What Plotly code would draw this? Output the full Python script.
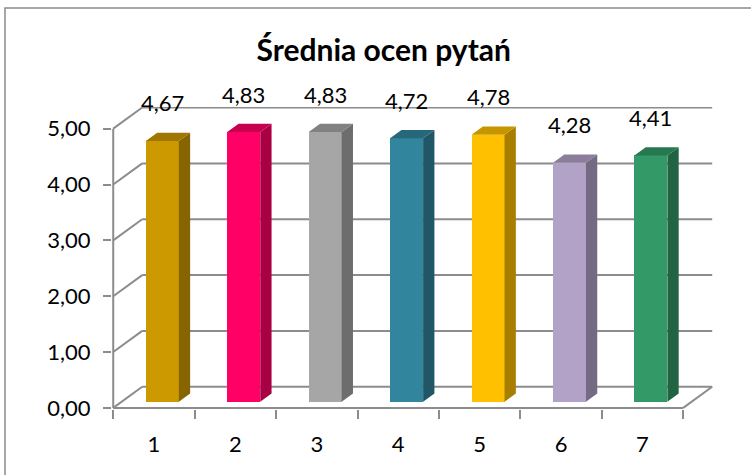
import plotly.graph_objects as go

# ---------------- data ----------------
categories = ["1", "2", "3", "4", "5", "6", "7"]
values = [4.67, 4.83, 4.83, 4.72, 4.78, 4.28, 4.41]
y_ticks = [0, 1, 2, 3, 4, 5]
bar_colors = ["#CC9900", "#FF0066", "#A6A6A6", "#31859C", "#FFC000", "#B2A2C7", "#339966"]
chart_title = "Średnia ocen pytań"

# ---------------- 3D style constants (data units) ----------------
DX = 0.356   # depth offset along x (category units)
DY = 0.378   # depth offset along y (value units)
F0 = 0.29    # bar front plane (fraction of depth)
F1 = 0.68    # bar back plane (fraction of depth)
W = 0.405    # bar width (category units)
GRID = "#8C8C8C"
FONT = "Lato, 'Open Sans', sans-serif"


def shade(hex_color, k):
    h = hex_color.lstrip("#")
    r, g, b = (int(h[i:i + 2], 16) for i in (0, 2, 4))
    return "rgb({},{},{})".format(int(r * k), int(g * k), int(b * k))


n = len(categories)
xpos = [i + 1 for i in range(n)]
x_lo, x_hi = 0.5, n + 0.5
y_top = max(y_ticks)

fig = go.Figure()

# front faces (bars)
fig.add_trace(go.Bar(
    x=xpos, y=values, base=[F0 * DY] * n,
    width=W, offset=F0 * DX - W / 2,
    marker=dict(color=bar_colors, line=dict(width=0)),
    hoverinfo="skip", showlegend=False,
))

ddx = (F1 - F0) * DX
ddy = (F1 - F0) * DY
for xc, v, col in zip(xpos, values, bar_colors):
    xl = xc + F0 * DX - W / 2
    xr = xc + F0 * DX + W / 2
    b = F0 * DY
    t = b + v
    # side face
    fig.add_trace(go.Scatter(
        x=[xr, xr + ddx, xr + ddx, xr, xr],
        y=[b, b + ddy, t + ddy, t, b],
        fill="toself", fillcolor=shade(col, 0.66),
        mode="lines", line=dict(width=0, color=shade(col, 0.66)),
        hoverinfo="skip", showlegend=False,
    ))
    # top face
    fig.add_trace(go.Scatter(
        x=[xl, xr, xr + ddx, xl + ddx, xl],
        y=[t, t, t + ddy, t + ddy, t],
        fill="toself", fillcolor=shade(col, 0.78),
        mode="lines", line=dict(width=0, color=shade(col, 0.78)),
        hoverinfo="skip", showlegend=False,
    ))

shapes = []
gl = dict(color=GRID, width=2)
for v in y_ticks:
    shapes.append(dict(type="line", xref="x", yref="y", layer="below",
                       x0=x_lo + DX, y0=v + DY, x1=x_hi + DX, y1=v + DY, line=gl))
    shapes.append(dict(type="line", xref="x", yref="y", layer="below",
                       x0=x_lo, y0=v, x1=x_lo + DX, y1=v + DY, line=gl))
shapes.append(dict(type="line", xref="x", yref="y", layer="below",
                   x0=x_lo, y0=0, x1=x_lo, y1=y_top, line=gl))
shapes.append(dict(type="line", xref="x", yref="y", layer="below",
                   x0=x_lo, y0=0, x1=x_hi, y1=0, line=gl))
shapes.append(dict(type="line", xref="x", yref="y", layer="below",
                   x0=x_hi, y0=0, x1=x_hi + DX, y1=DY, line=gl))

# chart frame (outer border)
W_PX, H_PX = 751, 475
ML, MR, MT, MB = 112, 38, 107, 66
pw = W_PX - ML - MR
ph = H_PX - MT - MB
shapes.append(dict(type="rect", xref="paper", yref="paper", layer="below",
                   x0=(5 - ML) / pw, x1=(W_PX + 20 - ML) / pw,
                   y0=((H_PX - MB) - (H_PX + 20)) / ph, y1=((H_PX - MB) - 8) / ph,
                   line=dict(color="#8A8A8A", width=1.5), fillcolor="rgba(0,0,0,0)"))

annotations = []
for xc, v in zip(xpos, values):
    annotations.append(dict(
        x=xc + F0 * DX, y=F0 * DY + v, xref="x", yref="y",
        text="{:.2f}".format(v).replace(".", ","),
        showarrow=False, yanchor="middle", xanchor="center", yshift=38,
        font=dict(family=FONT, size=22, color="#000000"),
    ))

fig.update_layout(
    width=W_PX, height=H_PX, autosize=False,
    margin=dict(l=ML, r=MR, t=MT, b=MB, pad=0),
    paper_bgcolor="white", plot_bgcolor="rgba(0,0,0,0)",
    separators=", ",
    font=dict(family=FONT, size=22, color="#000000"),
    title=dict(text="<b>" + chart_title + "</b>", x=0.511, xref="container", xanchor="center",
               y=1 - 50 / H_PX, yref="container", yanchor="middle",
               font=dict(family=FONT, size=30, color="#000000")),
    shapes=shapes, annotations=annotations,
    showlegend=False, bargap=0,
    xaxis=dict(range=[x_lo - 0.015, x_hi + DX + 0.01], showgrid=False, zeroline=False,
               showline=False, tickmode="array", tickvals=xpos, ticktext=categories,
               ticks="", ticklabelstandoff=20, fixedrange=True,
               minor=dict(tickmode="array", tickvals=[x_lo + i for i in range(n + 1)],
                          ticks="outside", ticklen=9, tickwidth=2, tickcolor=GRID,
                          showgrid=False)),
    yaxis=dict(range=[-0.02, y_top + DY + 0.01], showgrid=False, zeroline=False,
               showline=False, tickmode="array", tickvals=y_ticks, tickformat=".2f",
               ticks="outside", ticklen=8, tickwidth=2, tickcolor=GRID,
               ticklabelstandoff=8, fixedrange=True),
)

fig.write_html("out.html", config={"displayModeBar": False},
               post_script="document.body.style.margin='0';")
